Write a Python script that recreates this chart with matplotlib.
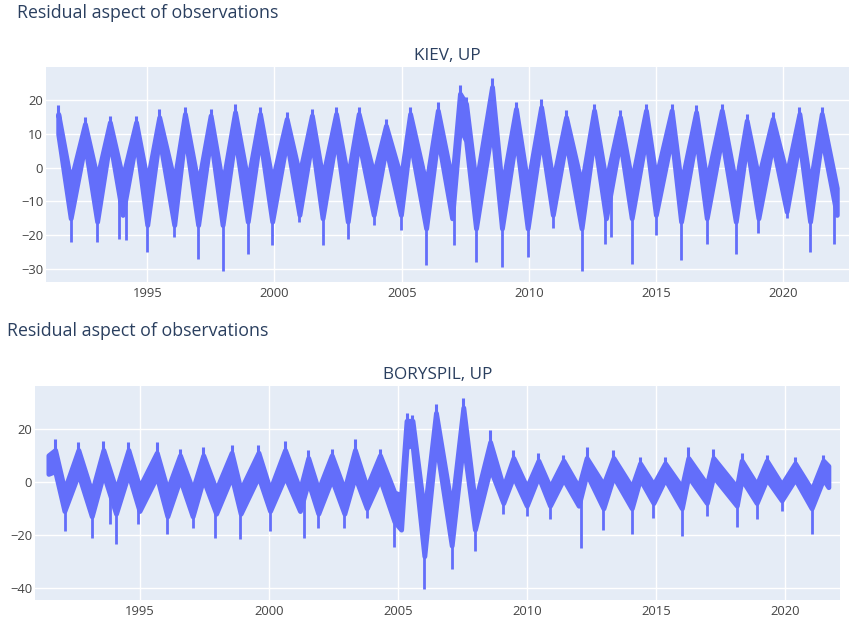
import numpy as np
import matplotlib
matplotlib.use("Agg")
import matplotlib.pyplot as plt

plt.rcParams["font.family"] = ["Open Sans", "DejaVu Sans"]

LINE = "#636efa"
BG = "#e5ecf6"
TXT = "#2a3f5f"
TICK = "#444444"

W, H = 851, 619

# ---- KIEV, UP : summer peaks (tip, band top, band bottom) ----
kiev_peak_t = [1991.50, 1992.55, 1993.53, 1994.56, 1995.47, 1996.48, 1997.49, 1998.45, 1999.43, 2000.48,
               2001.47, 2002.42, 2003.31, 2004.38, 2005.33, 2006.42, 2007.29, 2007.53, 2008.55, 2009.49,
               2010.48, 2011.46, 2012.56, 2013.58, 2014.60, 2015.61, 2016.57, 2017.58, 2018.56, 2019.58,
               2020.63, 2021.51]
kiev_peak_top = [18.5, 15, 15.5, 15.5, 17.5, 18, 17.5, 19, 18, 16.5,
                 17.5, 18, 18, 14.5, 18, 19.5, 24.5, 21, 26.5, 19.5,
                 20.5, 17, 19, 17, 19, 19, 18.5, 19, 16, 16.5,
                 18, 18]
kiev_peak_hi = [16, 13, 13.5, 13.5, 15, 16, 15.5, 16.5, 16, 14.5,
                15.5, 16, 16, 12.5, 16, 17, 22, 19, 24, 17.5,
                18, 15, 17, 15, 17, 17, 16.5, 17, 14, 14.5,
                16, 16]
kiev_peak_lo = [10, 7, 8, 8, 9, 10, 9, 9, 9, 8,
                8, 9, 8, 6, 8, 9, 12, 8, 12, 9,
                9, 8, 9, 8, 9, 9, 9, 9, 7, 7,
                8, 9]

# winter lows (band top, band bottom)
kiev_low_t = [1991.99, 1993.03, 1994.03, 1995.00, 1996.06, 1997.00, 1997.96, 1998.95, 1999.91, 2000.98,
              2001.89, 2002.88, 2003.90, 2004.97, 2005.96, 2006.98, 2007.92, 2008.94, 2009.95, 2010.94,
              2012.07, 2013.03, 2014.04, 2014.99, 2015.98, 2016.99, 2018.13, 2019.02, 2020.13, 2021.05,
              2022.10]
kiev_low_hi = [-4, -3, -3, -4, -4, -5, -5, -4, -4, -2,
               -3, -3, -2, -3, -5, -4, -5, -6, -5, -4,
               -5, -4, -4, -3, -5, -4, -5, -3, -2, -5,
               -6]
kiev_low_lo = [-15, -16, -14, -17, -17, -17, -17, -16, -16, -14,
               -15, -16, -14, -14, -18, -15, -18, -18, -18, -14,
               -18, -15, -15, -14, -16, -15, -16, -15, -13, -16,
               -14]

# downward spikes
kiev_dip_t = [1991.99, 1993.04, 1993.90, 1994.16, 1995.00, 1996.07, 1997.00, 1997.96, 1998.95, 1999.91,
              2000.98, 2001.89, 2002.88, 2003.90, 2004.97, 2005.96, 2007.05, 2007.92, 2008.94, 2009.95,
              2010.94, 2012.07, 2013.00, 2013.21, 2014.04, 2014.99, 2015.98, 2016.99, 2018.13, 2019.02,
              2020.13, 2021.05, 2022.00]
kiev_dip_v = [-22, -22, -21, -21.5, -25, -20.5, -27, -30.5, -25.5, -23,
              -16, -23, -21, -17, -18.5, -29, -23, -28, -29.5, -26.5,
              -18, -30.5, -22.5, -20.5, -28.5, -20, -27.5, -22.5, -25.5, -19.5,
              -15, -25, -22.5]

# ---- BORYSPIL, UP ----
bory_peak_t = [1991.71, 1992.61, 1993.58, 1994.55, 1995.65, 1996.55, 1997.45, 1998.55, 1999.59, 2000.62,
               2001.52, 2002.43, 2003.33, 2004.30, 2005.33, 2005.56, 2006.47, 2007.53, 2008.57, 2009.47,
               2010.44, 2011.41, 2012.31, 2013.35, 2014.38, 2015.35, 2016.25, 2017.22, 2018.32, 2019.29,
               2020.39, 2021.48]
bory_peak_top = [16, 15, 15.5, 15, 15, 12.5, 13, 14, 14, 15.5,
                 12, 12.5, 16, 12.5, 26, 25, 29.5, 31.5, 19.5, 12,
                 11, 10, 13, 12, 9.5, 9.5, 13, 12.5, 11, 10,
                 9.5, 10]
bory_peak_hi = [12, 12, 12, 12, 11, 10, 10, 11, 11, 12,
                9, 10, 12, 10, 23, 23, 26, 28, 15, 9,
                8, 8, 9, 9, 7, 7, 9, 9, 8, 8,
                7, 8]
bory_peak_lo = [4, 3, 3, 3, 2, 1, 1, 2, 2, 2,
                0, 1, 2, 1, 13, 14, 15, 15, 5, 2,
                2, 1, 3, 2, 1, 1, 2, 2, 1, 1,
                1, 1]

bory_low_t = [1991.45, 1992.07, 1993.13, 1994.07, 1994.98, 1996.06, 1997.04, 1997.95, 1998.90, 2000.04,
              2001.20, 2001.91, 2002.92, 2003.79, 2004.86, 2005.12, 2006.02, 2007.08, 2007.98, 2009.08,
              2009.99, 2010.89, 2012.00, 2012.96, 2014.06, 2014.90, 2016.00, 2016.97, 2018.13, 2018.90,
              2019.87, 2021.03, 2021.68]
bory_low_hi = [10, -3, -4, -3, -2, -3, -3, -3, -3, -3,
               -3, -3, -3, -2, -4, -5, -12, -10, -8, -2,
               -2, -2, -2, -1, -2, -1, -2, -1, -2, -1,
               -1, -3, 6]
bory_low_lo = [3, -11, -13, -12, -11, -13, -13, -12, -12, -11,
               -11, -12, -12, -10, -15, -18, -28, -24, -18, -8,
               -9, -9, -9, -10, -10, -8, -10, -8, -9, -8,
               -7, -10, -2]

bory_dip_t = [1992.09, 1993.13, 1993.84, 1994.07, 1994.93, 1996.06, 1997.07, 1997.91, 1998.88, 2000.04,
              2001.37, 2001.91, 2002.92, 2003.79, 2004.86, 2006.02, 2007.08, 2007.98, 2009.08, 2009.99,
              2010.89, 2012.08, 2012.96, 2014.06, 2014.90, 2016.00, 2016.97, 2018.13, 2018.90, 2019.87,
              2021.03]
bory_dip_v = [-18.5, -21, -16, -23.5, -16, -19.5, -17.5, -21, -21.5, -18.5,
              -21, -17.5, -17.5, -13.5, -24.5, -40.5, -33, -26, -12, -13,
              -14, -25, -18, -19.5, -13.5, -20.5, -13, -17, -14, -11,
              -19.5]

year_ticks = [1995, 2000, 2005, 2010, 2015, 2020]
kiev_yticks = [-30, -20, -10, 0, 10, 20]
bory_yticks = [-40, -20, 0, 20]


def band(peak_t, peak_hi, peak_lo, low_t, low_hi, low_lo):
    t = np.r_[peak_t, low_t]
    order = np.argsort(t)
    return t[order], np.r_[peak_hi, low_hi][order], np.r_[peak_lo, low_lo][order]


def panel(rect, xlim, ylim, yticks, title, peaks, lows, dips):
    ax = fig.add_axes(rect)
    ax.set_facecolor(BG)
    peak_t, peak_top, peak_hi, peak_lo = peaks
    low_t, low_hi, low_lo = lows
    t, hi, lo = band(peak_t, peak_hi, peak_lo, low_t, low_hi, low_lo)
    ax.fill_between(t, lo, hi, color=LINE, linewidth=3.5, zorder=3)
    ax.vlines(peak_t, np.array(peak_hi) - 1, peak_top, color=LINE, lw=2.2, zorder=3)
    dip_t, dip_v = dips
    base = np.interp(dip_t, t, lo)
    ax.vlines(dip_t, dip_v, base + 1, color=LINE, lw=2, zorder=3)

    ax.set_xlim(*xlim)
    ax.set_ylim(*ylim)
    ax.set_xticks(year_ticks)
    ax.set_xticklabels([str(y) for y in year_ticks])
    ax.set_yticks(yticks)
    ax.grid(True, color="white", lw=1)
    ax.set_axisbelow(True)
    for s in ax.spines.values():
        s.set_visible(False)
    ax.tick_params(length=0, labelsize=9.4, colors=TICK)
    ax.tick_params(axis="y", pad=2)
    ax.tick_params(axis="x", pad=3.5)
    ax.set_title(title, fontsize=12.3, color=TXT, pad=5)
    return ax


fig = plt.figure(figsize=(W / 100, H / 100), dpi=100)


def rect(l, t, r, b):
    return [l / W, 1 - b / H, (r - l) / W, (b - t) / H]


panel(rect(46, 67, 849, 282), (1991.02, 2022.58), (-33.9, 29.9), kiev_yticks, "KIEV, UP",
      (kiev_peak_t, kiev_peak_top, kiev_peak_hi, kiev_peak_lo),
      (kiev_low_t, kiev_low_hi, kiev_low_lo),
      (kiev_dip_t, kiev_dip_v))
panel(rect(35, 386, 840, 600), (1990.93, 2022.13), (-44.5, 36.1), bory_yticks, "BORYSPIL, UP",
      (bory_peak_t, bory_peak_top, bory_peak_hi, bory_peak_lo),
      (bory_low_t, bory_low_hi, bory_low_lo),
      (bory_dip_t, bory_dip_v))

fig.text(17 / W, 1 - 13 / H, "Residual aspect of observations", fontsize=12.8, color=TXT,
         ha="left", va="center")
fig.text(7 / W, 1 - 331 / H, "Residual aspect of observations", fontsize=12.8, color=TXT,
         ha="left", va="center")

fig.savefig("out.png", dpi=100, facecolor="white")
